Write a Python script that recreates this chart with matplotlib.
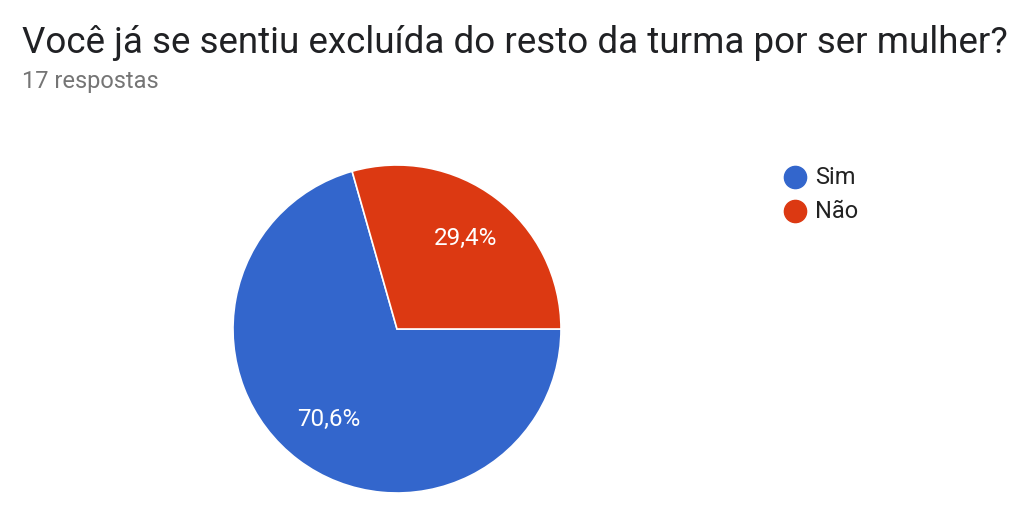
import matplotlib as mpl
mpl.use('Agg')
import matplotlib.pyplot as plt
from matplotlib.lines import Line2D

plt.rcParams['font.family'] = ['Roboto', 'DejaVu Sans']

title = 'Você já se sentiu excluída do resto da turma por ser mulher?'
subtitle = '17 respostas'
labels = ['Sim', 'Não']
counts = [12, 5]
colors = ['#3366cc', '#dc3912']

W, H = 1017, 523
fig = plt.figure(figsize=(W/100., H/100.), dpi=100)

# pie: centre (397,329) px, radius 164 px
r = 164
ax = fig.add_axes([(397-r)/W, (H-329-r)/H, 2*r/W, 2*r/H])
start = 360.0*counts[1]/sum(counts)
wedges, texts, auto = ax.pie(counts, colors=colors, startangle=start, counterclock=True,
                             autopct=lambda p: ('%.1f' % p).replace('.', ',') + '%',
                             pctdistance=0.69,
                             wedgeprops=dict(edgecolor='white', linewidth=1.2),
                             textprops=dict(color='white', fontsize=17.5))
ax.set_xlim(-1, 1)
ax.set_ylim(-1, 1)
ax.set_aspect('auto')
ax.axis('off')

fig.text(22/W, 1-43/H, title, fontsize=26.5, color='#202124', va='center', ha='left')
fig.text(22/W, 1-82/H, subtitle, fontsize=17, color='#757575', va='center', ha='left')

# legend
for i, (lab, col) in enumerate(zip(labels, colors)):
    y = 1-(177+34*i)/H
    fig.add_artist(Line2D([795/W], [y], marker='o', markersize=16, color=col,
                          transform=fig.transFigure))
    fig.text(815/W, y, lab, fontsize=17, color='#222222', va='center', ha='left')

plt.savefig('out.png', dpi=100)
plt.close()
